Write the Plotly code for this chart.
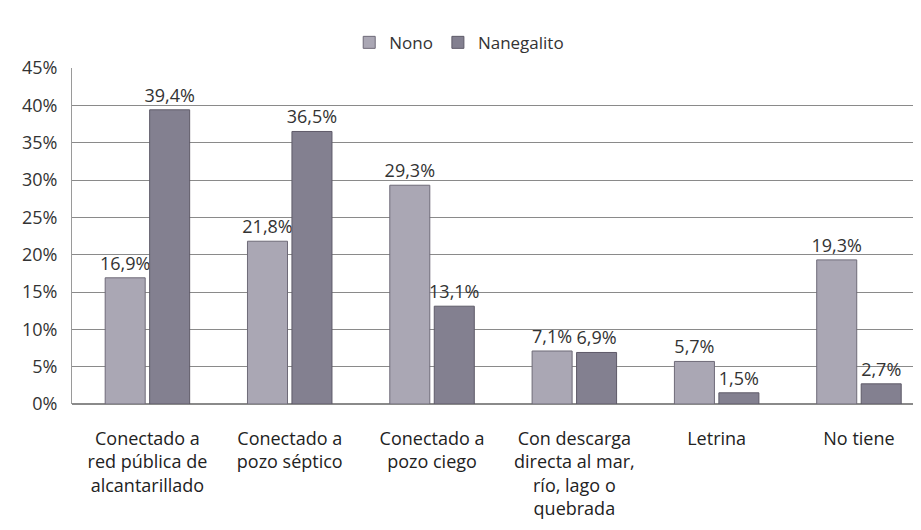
import plotly.graph_objects as go

categories = [
    "Conectado a<br>red pública de<br>alcantarillado",
    "Conectado a<br>pozo séptico",
    "Conectado a<br>pozo ciego",
    "Con descarga<br>directa al mar,<br>río, lago o<br>quebrada",
    "Letrina",
    "No tiene",
]
nono = [16.9, 21.8, 29.3, 7.1, 5.7, 19.3]
nanegalito = [39.4, 36.5, 13.1, 6.9, 1.5, 2.7]
tick_vals = [0, 5, 10, 15, 20, 25, 30, 35, 40, 45]
tick_text = [f"{v}%" for v in tick_vals]

def fmt(v):
    return f"{v:.1f}".replace(".", ",") + "%"

font = dict(family="Open Sans, Lato, sans-serif", size=18, color="#333333")

fig = go.Figure()
fig.add_trace(go.Bar(
    name="Nono", x=categories, y=nono,
    text=[fmt(v) for v in nono], textposition="outside", cliponaxis=False,
    constraintext="none",
    marker=dict(color="#aaa7b4", line=dict(color="#6e6a78", width=1)),
    textfont=font,
))
fig.add_trace(go.Bar(
    name="Nanegalito", x=categories, y=nanegalito,
    text=[fmt(v) for v in nanegalito], textposition="outside", cliponaxis=False,
    constraintext="none",
    marker=dict(color="#838090", line=dict(color="#5e5a68", width=1)),
    textfont=font,
))

fig.update_layout(
    width=921, height=530,
    paper_bgcolor="white", plot_bgcolor="white",
    margin=dict(l=64, r=6, t=60, b=134),
    barmode="group", bargap=0.375, bargroupgap=0.1,
    font=font,
    legend=dict(orientation="h", x=0.455, xanchor="center", y=1.075, yanchor="middle",
                font=dict(size=17, color="#333333"), itemwidth=30, tracegroupgap=0),
    showlegend=True,
    uniformtext=dict(mode=False),
)
fig.update_yaxes(range=[0, 45], tickvals=tick_vals, ticktext=tick_text,
                 showgrid=True, gridcolor="#8a8a8a", gridwidth=1,
                 showline=True, linecolor="#9a9a9a", zeroline=True, zerolinecolor="#8a8a8a",
                 tickfont=dict(size=18, color="#333333"), ticks="", ticklen=0,
                 ticklabelstandoff=10, automargin=False)
fig.update_xaxes(showline=False, tickfont=dict(size=18, color="#222222"), ticks="",
                 range=[-0.53, 5.45], ticklabelstandoff=22, automargin=False)

fig.write_html("out.html")
